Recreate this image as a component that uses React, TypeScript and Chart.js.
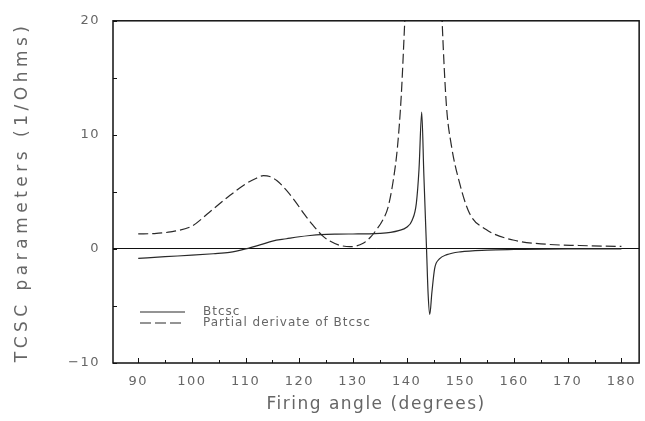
import React, { useEffect, useRef } from 'react';
import { Chart, registerables } from 'chart.js';

Chart.register(...registerables);

const btcscAngles = [90, 95, 100, 104, 107, 110, 113, 115, 117.6, 120, 122, 124, 127, 130, 133, 135, 137, 138.5, 140, 141, 141.8, 142.3, 142.8, 143.2, 143.7, 144.0, 144.3, 144.7, 145.2, 146.1, 147.5, 150, 155, 160, 170, 180];
const btcscValues = [-0.83, -0.68, -0.55, -0.42, -0.3, 0.0, 0.4, 0.69, 0.89, 1.07, 1.18, 1.26, 1.3, 1.31, 1.32, 1.36, 1.45, 1.6, 1.9, 2.5, 4.0, 7.0, 12.0, 6.5, 0.0, -4.0, -5.75, -3.8, -1.74, -0.88, -0.5, -0.25, -0.1, -0.05, 0.0, 0.0];

const derivAngles = [90, 93, 96, 100, 103.2, 107.1, 110, 112, 113.3, 114.5, 115.8, 117.5, 119.2, 121, 122.5, 124.4, 125.7, 127.5, 129.5, 131.9, 133.2, 134.4, 135.5, 136.5, 137.5, 138.3, 139, 139.6, 140.2, 141, 142, 143, 144, 145, 146, 146.6, 147.4, 148.3, 149.9, 151.7, 154.8, 159.8, 166, 172.2, 180];
const derivValues = [1.32, 1.35, 1.5, 2.0, 3.2, 4.7, 5.7, 6.2, 6.42, 6.35, 6.0, 5.2, 4.2, 3.0, 2.1, 1.12, 0.69, 0.32, 0.2, 0.5, 1.0, 1.7, 2.5, 3.6, 6.0, 9.0, 13.5, 19.5, 26, 38, 55, 70, 65, 45, 28, 20, 12.6, 9.15, 5.7, 3.13, 1.7, 0.78, 0.41, 0.3, 0.22];

const xTickValues = [90, 100, 110, 120, 130, 140, 150, 160, 170, 180];
const yTickValues = [-10, 0, 10, 20];
const xMin = 85.3;
const xMax = 183.3;
const yMin = -10;
const yMax = 20;

const xTitle = 'Firing angle (degrees)';
const yTitle = 'TCSC parameters (1/Ohms)';
const legendLabels = ['Btcsc', 'Partial derivate of Btcsc'];

const FONT = '"DejaVu Sans", "Noto Sans", sans-serif';
const TEXT = '#666';
const LINE = '#2a2a2a';

export default function App() {
  const ref = useRef<HTMLCanvasElement>(null);

  useEffect(() => {
    document.body.style.margin = '0';
    const canvas = ref.current;
    if (!canvas) return;

    const framePlugin = {
      id: 'frame',
      beforeDraw(chart: any) {
        chart.ctx.letterSpacing = '1.5px';
      },
      afterDraw(chart: any) {
        const { ctx, chartArea } = chart;
        const xs = chart.scales.x;
        const ys = chart.scales.y;
        ctx.save();
        ctx.letterSpacing = '0px';
        ctx.strokeStyle = '#111';
        ctx.lineWidth = 1.5;
        ctx.strokeRect(chartArea.left, chartArea.top, chartArea.right - chartArea.left, chartArea.bottom - chartArea.top);
        ctx.lineWidth = 1;
        ctx.beginPath();
        for (let v = 90; v <= 180; v += 5) {
          const px = Math.round(xs.getPixelForValue(v)) + 0.5;
          const len = v % 10 === 0 ? 5 : 3;
          ctx.moveTo(px, chartArea.bottom);
          ctx.lineTo(px, chartArea.bottom - len);
        }
        for (let v = -10; v <= 20; v += 5) {
          const py = Math.round(ys.getPixelForValue(v)) + 0.5;
          ctx.moveTo(chartArea.left, py);
          ctx.lineTo(chartArea.left + 4, py);
        }
        ctx.stroke();

        // legend
        const lx0 = chartArea.left + 27;
        const lx1 = chartArea.left + 72;
        const ly0 = chartArea.bottom - 51;
        const ly1 = chartArea.bottom - 40;
        ctx.strokeStyle = LINE;
        ctx.lineWidth = 1.2;
        ctx.setLineDash([]);
        ctx.beginPath();
        ctx.moveTo(lx0, ly0);
        ctx.lineTo(lx1, ly0);
        ctx.stroke();
        ctx.setLineDash([11, 4]);
        ctx.beginPath();
        ctx.moveTo(lx0, ly1);
        ctx.lineTo(lx1, ly1);
        ctx.stroke();
        ctx.setLineDash([]);
        ctx.fillStyle = TEXT;
        ctx.font = `12px ${FONT}`;
        ctx.letterSpacing = '1px';
        ctx.textBaseline = 'middle';
        ctx.textAlign = 'left';
        ctx.fillText(legendLabels[0], chartArea.left + 90, ly0);
        ctx.fillText(legendLabels[1], chartArea.left + 90, ly1);
        ctx.restore();
      },
    };

    const chart = new Chart(canvas, {
      type: 'line',
      data: {
        datasets: [
          {
            label: legendLabels[0],
            data: btcscAngles.map((a, i) => ({ x: a, y: btcscValues[i] })),
            borderColor: LINE,
            borderWidth: 1.2,
            pointRadius: 0,
            fill: false,
            cubicInterpolationMode: 'monotone',
          },
          {
            label: legendLabels[1],
            data: derivAngles.map((a, i) => ({ x: a, y: derivValues[i] })),
            borderColor: LINE,
            borderWidth: 1.2,
            borderDash: [10, 4],
            pointRadius: 0,
            fill: false,
            cubicInterpolationMode: 'monotone',
          },
        ],
      },
      options: {
        responsive: false,
        maintainAspectRatio: false,
        animation: false,
        events: [],
        layout: { padding: { top: 14, right: 5, left: 0, bottom: 0 } },
        plugins: {
          legend: { display: false },
          tooltip: { enabled: false },
        },
        scales: {
          x: {
            type: 'linear',
            min: xMin,
            max: xMax,
            afterBuildTicks: (s: any) => {
              s.ticks = xTickValues.map((v) => ({ value: v }));
            },
            afterFit: (s: any) => {
              s.height = 58;
            },
            border: { display: false },
            grid: { display: false, drawTicks: false },
            ticks: {
              padding: 11,
              color: TEXT,
              font: { family: FONT, size: 13 },
              maxRotation: 0,
              autoSkip: false,
            },
            title: {
              display: true,
              text: xTitle,
              color: TEXT,
              font: { family: FONT, size: 17 },
              padding: { top: 0, bottom: 6 },
            },
          },
          y: {
            type: 'linear',
            min: yMin,
            max: yMax,
            afterBuildTicks: (s: any) => {
              s.ticks = yTickValues.map((v) => ({ value: v }));
            },
            afterFit: (s: any) => {
              s.width = 113;
              if (!s.__spaced) {
                const orig = s.drawTitle.bind(s);
                s.drawTitle = (...args: any[]) => {
                  const c = s.ctx;
                  const prev = c.letterSpacing;
                  c.letterSpacing = '4.5px';
                  orig(...args);
                  c.letterSpacing = prev;
                };
                s.__spaced = true;
              }
            },
            border: { display: false },
            grid: {
              drawTicks: false,
              lineWidth: 1,
              color: (c: any) => (c.tick && c.tick.value === 0 ? '#111' : 'rgba(0,0,0,0)'),
            },
            ticks: {
              padding: 13,
              color: TEXT,
              font: { family: FONT, size: 13 },
              callback: (v: any) => String(v).replace('-', '\u2212'),
            },
            title: {
              display: true,
              text: yTitle,
              color: TEXT,
              font: { family: FONT, size: 17 },
              padding: { top: 12, bottom: 0 },
            },
          },
        },
      },
      plugins: [framePlugin],
    } as any);

    return () => chart.destroy();
  }, []);

  return (
    <div style={{ width: 645, height: 421 }}>
      <canvas ref={ref} width={645} height={421} style={{ display: 'block' }} />
    </div>
  );
}
